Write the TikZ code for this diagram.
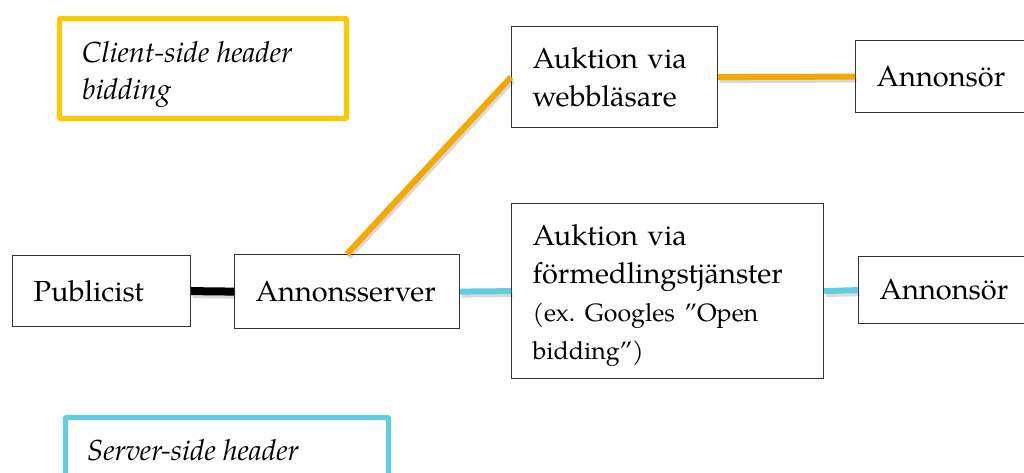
\documentclass[tikz,border=0pt]{standalone}
\usepackage{fontspec}
\setmainfont{TeX Gyre Pagella}
\frenchspacing
\definecolor{clientyellow}{HTML}{FFC800}
\definecolor{serverblue}{HTML}{62CCE0}
\definecolor{lineorange}{HTML}{F5A800}
\definecolor{boxgray}{HTML}{333333}
\tikzset{
  boxnode/.style={draw=boxgray, line width=1.2pt, fill=white, anchor=north west,
    align=left, inner xsep=21pt, inner ysep=0pt, font=\fontsize{29}{38}\selectfont},
  labelbox/.style={line width=5pt, anchor=north west, inner sep=0pt},
  labeltext/.style={anchor=base west, inner sep=0pt, font=\fontsize{29}{37}\itshape\selectfont},
  conn/.style={line width=7pt},
  shadowline/.style={line width=7pt, draw=black, opacity=0.15},
}
\begin{document}
\begin{tikzpicture}[x=1pt,y=-1pt]
\clip (0,0) rectangle (1024,472);
\fill[white] (0,0) rectangle (1024,472);
% label boxes
\draw[labelbox, draw=clientyellow, rounded corners=1pt] (59.5,18.5) rectangle (346.5,118.5);
\node[labeltext] (clienttxt) at (82,62) {Client-side header};
\node[labeltext] (clienttxt2) at (82,99) {bidding};
\draw[labelbox, draw=serverblue, rounded corners=1pt] (65.5,417.5) rectangle (388.5,530);
\node[labeltext] (servertxt) at (87,460) {Server-side header};
% boxes
\node[boxnode, text width=136pt, minimum height=71pt] (pub) at (12,255) {Publicist};
\node[boxnode, text width=183pt, minimum height=74pt] (ann) at (234,254) {Annonsserver};
\node[boxnode, text width=164pt, minimum height=101pt] (auk1) at (511,26) {Auktion via\\webbläsare};
\node[boxnode, text width=270pt, minimum height=175pt] (auk2) at (511,203) {\rule{0pt}{30pt}Auktion via\\förmedlingstjänster\\{\fontsize{25}{36}\selectfont (ex. Googles ”Open}\\{\fontsize{25}{36}\selectfont bidding”)}};
\node[boxnode, text width=140pt, minimum height=72pt] (adv1) at (855,40) {Annonsör};
\node[boxnode, text width=140pt, minimum height=67pt] (adv2) at (858,256) {Annonsör};
% shadows
\begin{scope}[transform canvas={shift={(1.5pt,-3pt)}}]
\draw[shadowline, line width=8pt] (pub.east) -- (ann.west);
\draw[shadowline, line width=6pt] (ann.north) -- (auk1.west);
\draw[shadowline, line width=6pt] (auk1.east) -- (adv1.west);
\draw[shadowline, line width=6pt] (ann.east) -- (auk2.west);
\draw[shadowline, line width=6pt] (auk2.east) -- (adv2.west);
\end{scope}
% connectors
\draw[conn, black, line width=8pt] (pub.east) -- (ann.west);
\draw[conn, lineorange, line width=6pt] (ann.north) -- (auk1.west);
\draw[conn, lineorange, line width=6pt] (auk1.east) -- (adv1.west);
\draw[conn, serverblue, line width=6pt] (ann.east) -- (auk2.west);
\draw[conn, serverblue, line width=6pt] (auk2.east) -- (adv2.west);
\end{tikzpicture}
\end{document}
